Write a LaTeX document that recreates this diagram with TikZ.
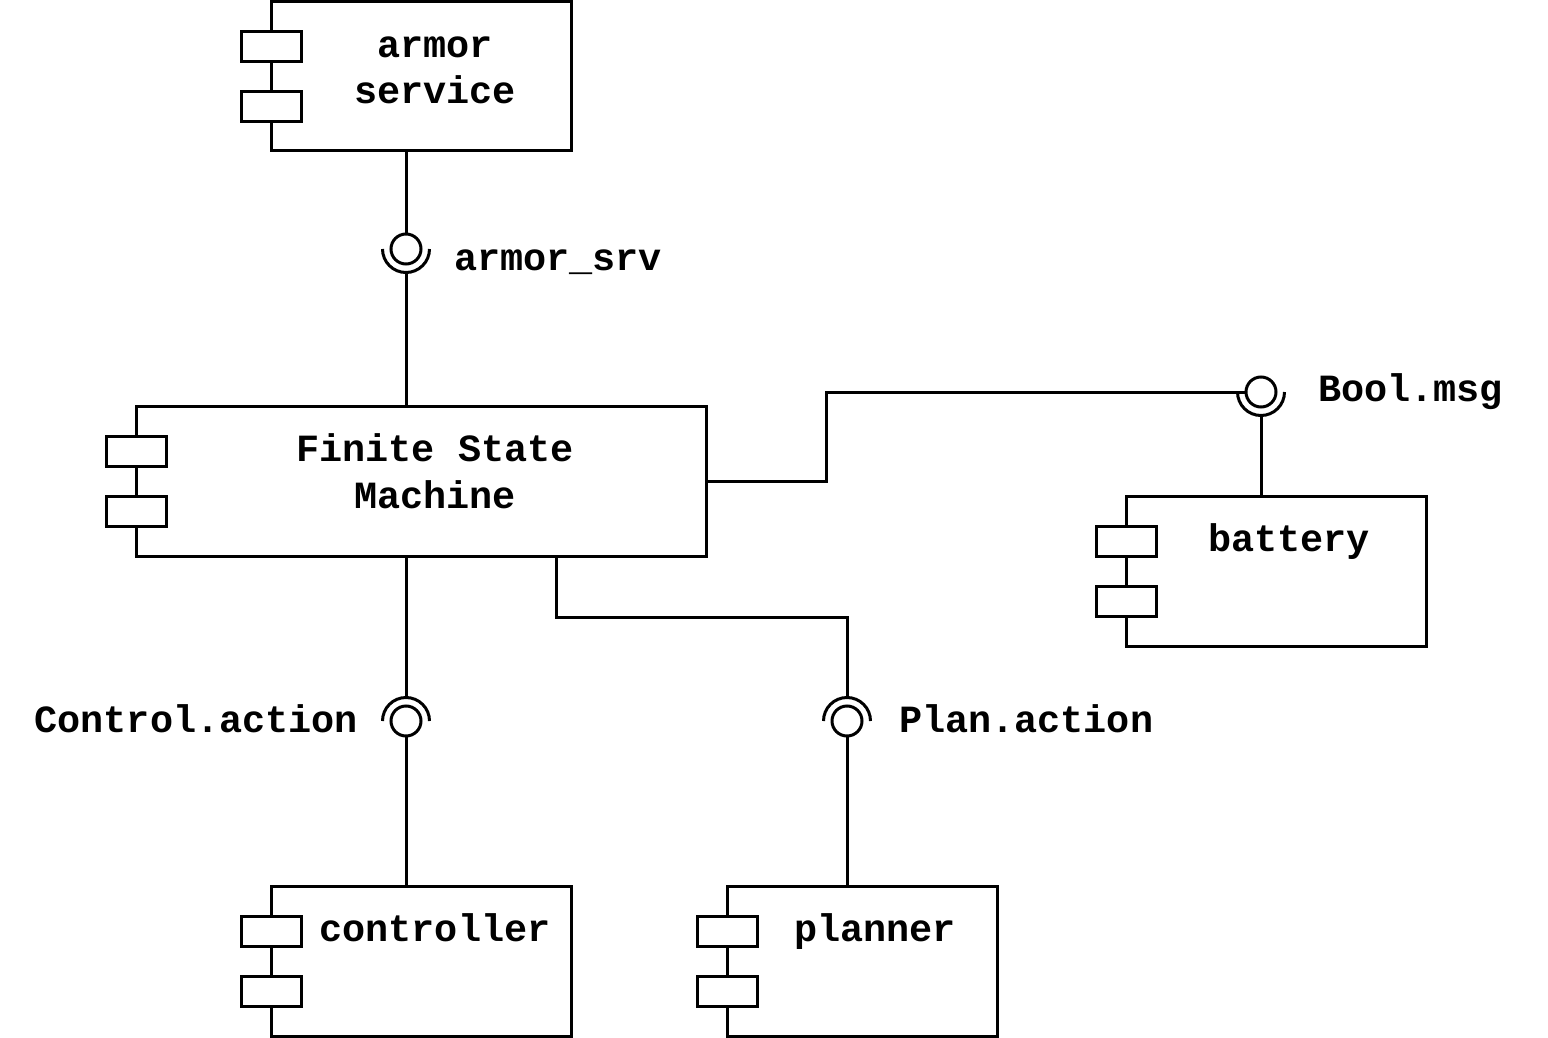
\documentclass[tikz,border=0pt]{standalone}
\usepackage{fontspec}
\setmonofont{Liberation Mono}
\usepackage{tikz}
\usetikzlibrary{calc}

\begin{document}
\begin{tikzpicture}[x=0.5pt, y=-0.5pt, line width=1.5pt,
  comp/.style={draw, fill=white, inner sep=0pt, outer sep=0pt},
  port/.style={draw, fill=white},
  ball/.style={draw, circle, fill=white, minimum size=15pt, inner sep=0pt, outer sep=0pt},
  compname/.style={font=\ttfamily\bfseries\fontsize{19.25pt}{23.25pt}\selectfont, align=center, inner sep=0pt, outer sep=0pt, anchor=base},
  iface/.style={font=\ttfamily\bfseries\fontsize{19.25pt}{23.25pt}\selectfont, inner sep=0pt, outer sep=0pt}]

  \useasboundingbox (0,0) rectangle (1548,1038);

  % Components
  \node[comp, minimum width=150pt, minimum height=74.5pt] (armor) at (421, 76.5) {};
  \node[comp, minimum width=285pt, minimum height=75pt] (fsm) at (421, 481) {};
  \node[comp, minimum width=150pt, minimum height=75pt] (battery) at (1276, 571) {};
  \node[comp, minimum width=150pt, minimum height=75pt] (controller) at (421, 961) {};
  \node[comp, minimum width=135pt, minimum height=75pt] (planner) at (862, 961) {};

  % Ports
  \draw[port] (241, 32) rectangle (301, 62);
  \draw[port] (241, 92) rectangle (301, 122);
  \draw[port] (106, 436) rectangle (166, 466);
  \draw[port] (106, 496) rectangle (166, 526);
  \draw[port] (1096, 526) rectangle (1156, 556);
  \draw[port] (1096, 586) rectangle (1156, 616);
  \draw[port] (241, 916) rectangle (301, 946);
  \draw[port] (241, 976) rectangle (301, 1006);
  \draw[port] (697, 916) rectangle (757, 946);
  \draw[port] (697, 976) rectangle (757, 1006);

  % Names (base = last line)
  \node[compname] (armor-txt) at (435, 104) {armor\\service};
  \node[compname] (fsm-txt) at (435, 508) {Finite State\\Machine};
  \node[compname] (battery-txt) at (1289, 551) {battery};
  \node[compname] (controller-txt) at (435, 941) {controller};
  \node[compname] (planner-txt) at (875, 941) {planner};

  % armor_srv
  \node[ball] (b-armor) at (406, 249) {};
  \coordinate (s-armor) at ([yshift=-11.75pt]b-armor.center);
  \draw (armor.south -| b-armor) -- (b-armor.north);
  \draw ([xshift=-11.75pt]b-armor.center) arc[start angle=180, end angle=360, radius=11.75pt];
  \draw (s-armor) -- (fsm.north -| s-armor);
  \node[iface, anchor=base west] (l-armor) at (454, 270) {armor\_srv};

  % Bool.msg
  \node[ball] (b-bool) at (1261, 392) {};
  \coordinate (s-bool) at ([yshift=-11.75pt]b-bool.center);
  \draw (fsm.east) -- ++(120,0) |- (b-bool.west);
  \draw ([xshift=-11.75pt]b-bool.center) arc[start angle=180, end angle=360, radius=11.75pt];
  \draw (s-bool) -- (battery.north -| s-bool);
  \node[iface, anchor=base west] (l-bool) at (1318, 401) {Bool.msg};

  % Control.action
  \node[ball] (b-control) at (406, 721) {};
  \coordinate (s-control) at ([yshift=11.75pt]b-control.center);
  \draw (fsm.south -| s-control) -- (s-control);
  \draw ([xshift=-11.75pt]b-control.center) arc[start angle=180, end angle=0, radius=11.75pt];
  \draw (b-control.south) -- (controller.north -| b-control);
  \node[iface, anchor=base east] (l-control) at (358, 732) {Control.action};

  % Plan.action
  \node[ball] (b-plan) at (847, 721) {};
  \coordinate (s-plan) at ([yshift=11.75pt]b-plan.center);
  \draw ([xshift=-75pt]fsm.south east) -- ++(0,61) -| (s-plan);
  \draw ([xshift=-11.75pt]b-plan.center) arc[start angle=180, end angle=0, radius=11.75pt];
  \draw (b-plan.south) -- (planner.north -| b-plan);
  \node[iface, anchor=base west] (l-plan) at (899, 732) {Plan.action};
\end{tikzpicture}
\end{document}
